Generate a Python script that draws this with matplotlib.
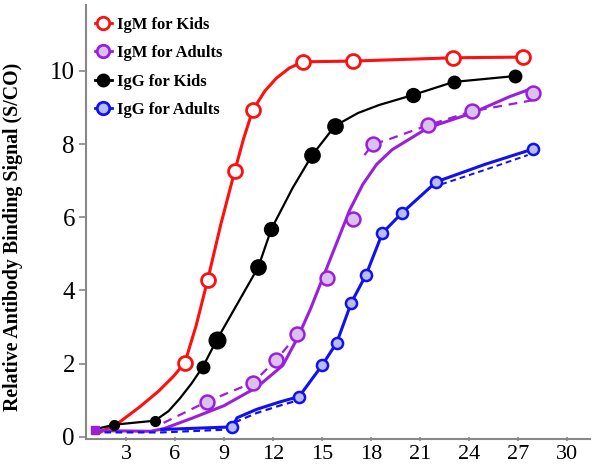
import matplotlib
matplotlib.use("Agg")
import matplotlib.pyplot as plt
from matplotlib.lines import Line2D

# ---------------- data ----------------
# IgM for Kids
igm_kids_x = [6.6, 8.0, 9.66, 10.76, 13.82, 16.88, 23.0, 27.3]
igm_kids_y = [2.02, 4.29, 7.27, 8.93, 10.25, 10.27, 10.36, 10.38]
igm_kids_curve_x = [1.4, 2.6, 3.85, 5.0, 5.9, 6.6, 7.3, 8.0, 8.8, 9.66, 10.2, 10.76, 11.5, 12.2, 13.0, 13.82, 16.88, 23.0, 27.3]
igm_kids_curve_y = [0.12, 0.4, 0.82, 1.25, 1.65, 2.02, 3.05, 4.29, 5.8, 7.27, 8.15, 8.93, 9.45, 9.8, 10.08, 10.25, 10.27, 10.36, 10.38]

# IgG for Kids
igg_kids_x = [2.26, 4.77, 7.7, 8.56, 11.1, 11.9, 14.4, 15.8, 20.55, 23.06, 26.8]
igg_kids_y = [0.33, 0.44, 1.91, 2.65, 4.64, 5.68, 7.7, 8.5, 9.34, 9.7, 9.86]
igg_kids_curve_x = [0.98, 2.26, 4.77, 5.6, 6.3, 7.0, 7.7, 8.56, 11.1, 11.9, 13.2, 14.4, 15.8, 17.2, 18.5, 20.55, 23.06, 26.8]
igg_kids_curve_y = [0.19, 0.33, 0.44, 0.7, 1.05, 1.45, 1.91, 2.65, 4.64, 5.68, 6.8, 7.7, 8.5, 8.85, 9.07, 9.34, 9.7, 9.86]

# IgM for Adults
igm_adults_x = [7.95, 10.76, 12.2, 13.5, 15.3, 16.9, 18.1, 21.5, 24.2, 27.9]
igm_adults_y = [0.96, 1.48, 2.1, 2.8, 4.34, 5.96, 8.0, 8.52, 8.9, 9.4]
igm_adults_start = (1.1, 0.19)
igm_adults_curve_x = [1.1, 4.5, 5.3, 7.0, 9.0, 11.0, 12.6, 13.5, 14.3, 15.1, 15.9, 16.7, 17.5, 18.35, 19.3, 20.4, 21.5, 24.2, 26.5, 27.6, 27.9]
igm_adults_curve_y = [0.17, 0.15, 0.22, 0.5, 0.85, 1.35, 1.95, 2.7, 3.5, 4.4, 5.3, 6.2, 6.9, 7.45, 7.85, 8.15, 8.45, 8.85, 9.3, 9.48, 9.4]
igm_adults_dash_x = [5.3, 7.95, 10.76, 12.2, 13.5]
igm_adults_dash_y = [0.38, 0.96, 1.48, 2.1, 2.8]
igm_adults_dash2_x = [17.6, 18.1, 18.9, 21.5, 24.2, 27.9]
igm_adults_dash2_y = [7.7, 8.0, 8.1, 8.52, 8.9, 9.2]

# IgG for Adults
igg_adults_x = [9.5, 13.6, 15.0, 15.9, 16.8, 17.7, 18.7, 19.9, 22.0, 27.95]
igg_adults_y = [0.27, 1.1, 1.95, 2.57, 3.67, 4.43, 5.57, 6.12, 6.97, 7.87]
igg_adults_curve_x = [5.2, 9.5, 9.8, 11.0, 12.4, 13.6, 15.0, 15.9, 16.8, 17.7, 18.7, 19.9, 22.0, 25.0, 27.95]
igg_adults_curve_y = [0.2, 0.27, 0.52, 0.75, 0.95, 1.1, 1.95, 2.57, 3.67, 4.43, 5.57, 6.12, 6.97, 7.45, 7.87]
igg_adults_dash_x = [1.0, 5.2, 9.3, 9.8, 11.0, 12.4, 13.4]
igg_adults_dash_y = [0.12, 0.12, 0.2, 0.42, 0.65, 0.85, 0.98]
igg_adults_dash2_x = [22.3, 25.0, 27.6]
igg_adults_dash2_y = [6.9, 7.3, 7.7]

x_ticks = [3, 6, 9, 12, 15, 18, 21, 24, 27, 30]
y_ticks = [0, 2, 4, 6, 8, 10]
labels = ["IgM for Kids", "IgM for Adults", "IgG for Kids", "IgG for Adults"]
y_label = "Relative Antibody Binding Signal (S/CO)"

# ---------------- styles ----------------
RED = "#ff1010"
PURPLE = "#9a1fdc"
PURPLE_FILL = "#dcc0f0"
BLACK = "#000000"
BLUE = "#1010f0"
BLUE_FILL = "#b8bdf5"
GRAY = "#888888"
SERIF = ["Liberation Serif", "DejaVu Serif"]

fig = plt.figure(figsize=(5.92, 4.66), dpi=100)
ax = fig.add_axes([0.1453, 0.058, 0.851, 0.931])

# red
ax.plot(igm_kids_curve_x, igm_kids_curve_y, color=RED, lw=2.2, zorder=3)
ax.plot(igm_kids_curve_x, igm_kids_curve_y, color=RED, lw=1.3, ls=(0, (3, 3)), zorder=3)
ax.plot(igm_kids_x, igm_kids_y, ls="none", marker="o", ms=10, mfc="white",
        mec=RED, mew=2.0, zorder=5)

# black
ax.plot(igg_kids_curve_x, igg_kids_curve_y, color=BLACK, lw=1.6, zorder=3)
black_sizes = [7, 7, 9, 12, 11, 10, 11, 11, 10, 9, 9]
for xv, yv, s in zip(igg_kids_x, igg_kids_y, black_sizes):
    ax.plot([xv], [yv], ls="none", marker="o", ms=s, color=BLACK, zorder=5)

# purple
ax.plot(igm_adults_curve_x, igm_adults_curve_y, color=PURPLE, lw=2.2, zorder=3)
ax.plot(igm_adults_dash_x, igm_adults_dash_y, color=PURPLE, lw=1.6, ls=(0, (4, 3)), zorder=3)
ax.plot(igm_adults_dash2_x, igm_adults_dash2_y, color=PURPLE, lw=1.6, ls=(0, (4, 3)), zorder=3)
ax.plot(igm_adults_x, igm_adults_y, ls="none", marker="o", ms=10, mfc=PURPLE_FILL,
        mec=PURPLE, mew=1.8, zorder=5)
ax.plot([igm_adults_start[0]], [igm_adults_start[1]], ls="none", marker="s", ms=6,
        color=PURPLE, zorder=6)

# blue
ax.plot(igg_adults_dash_x, igg_adults_dash_y, color=BLUE, lw=1.6, ls=(0, (3, 2)), zorder=3)
ax.plot(igg_adults_dash2_x, igg_adults_dash2_y, color=BLUE, lw=1.4, ls=(0, (3, 2)), zorder=3)
ax.plot(igg_adults_curve_x, igg_adults_curve_y, color=BLUE, lw=2.2, zorder=3)
ax.plot(igg_adults_x, igg_adults_y, ls="none", marker="o", ms=8, mfc=BLUE_FILL,
        mec=BLUE, mew=1.8, zorder=5)

# axes
ax.set_xlim(0.55, 31.4)
ax.set_ylim(-0.06, 11.8)
ax.set_xticks(x_ticks)
ax.set_yticks(y_ticks)
ax.set_xticklabels([str(v) for v in x_ticks], fontfamily=SERIF, fontsize=16)
ax.set_yticklabels([str(v) for v in y_ticks], fontfamily=SERIF, fontsize=18)
for s in ["top", "right"]:
    ax.spines[s].set_visible(False)
for s in ["left", "bottom"]:
    ax.spines[s].set_color(GRAY)
    ax.spines[s].set_linewidth(1.5)
ax.tick_params(axis="y", length=5, width=1.2, color=GRAY, pad=3)
ax.tick_params(axis="x", length=3, width=1.2, color=GRAY, pad=3, direction="inout")
ax.set_ylabel(y_label, fontfamily=SERIF, fontweight="bold", fontsize=14.3)
ax.yaxis.set_label_coords(-0.125, 0.465)

handles = [
    Line2D([], [], color=RED, lw=2, marker="o", ms=9, mfc="white", mec=RED, mew=2),
    Line2D([], [], color=PURPLE, lw=2, marker="o", ms=9, mfc=PURPLE_FILL, mec=PURPLE, mew=2),
    Line2D([], [], color=BLACK, lw=2, marker="o", ms=9),
    Line2D([], [], color=BLUE, lw=2, marker="o", ms=9, mfc=BLUE_FILL, mec=BLUE, mew=2),
]
leg = ax.legend(handles, labels, loc="upper left", bbox_to_anchor=(-0.005, 1.0),
                frameon=False, handlelength=1.0, handletextpad=0.3,
                labelspacing=0.75, borderaxespad=0.3,
                prop={"family": SERIF, "weight": "bold", "size": 12})

fig.savefig("out.png", dpi=100, facecolor="white")
